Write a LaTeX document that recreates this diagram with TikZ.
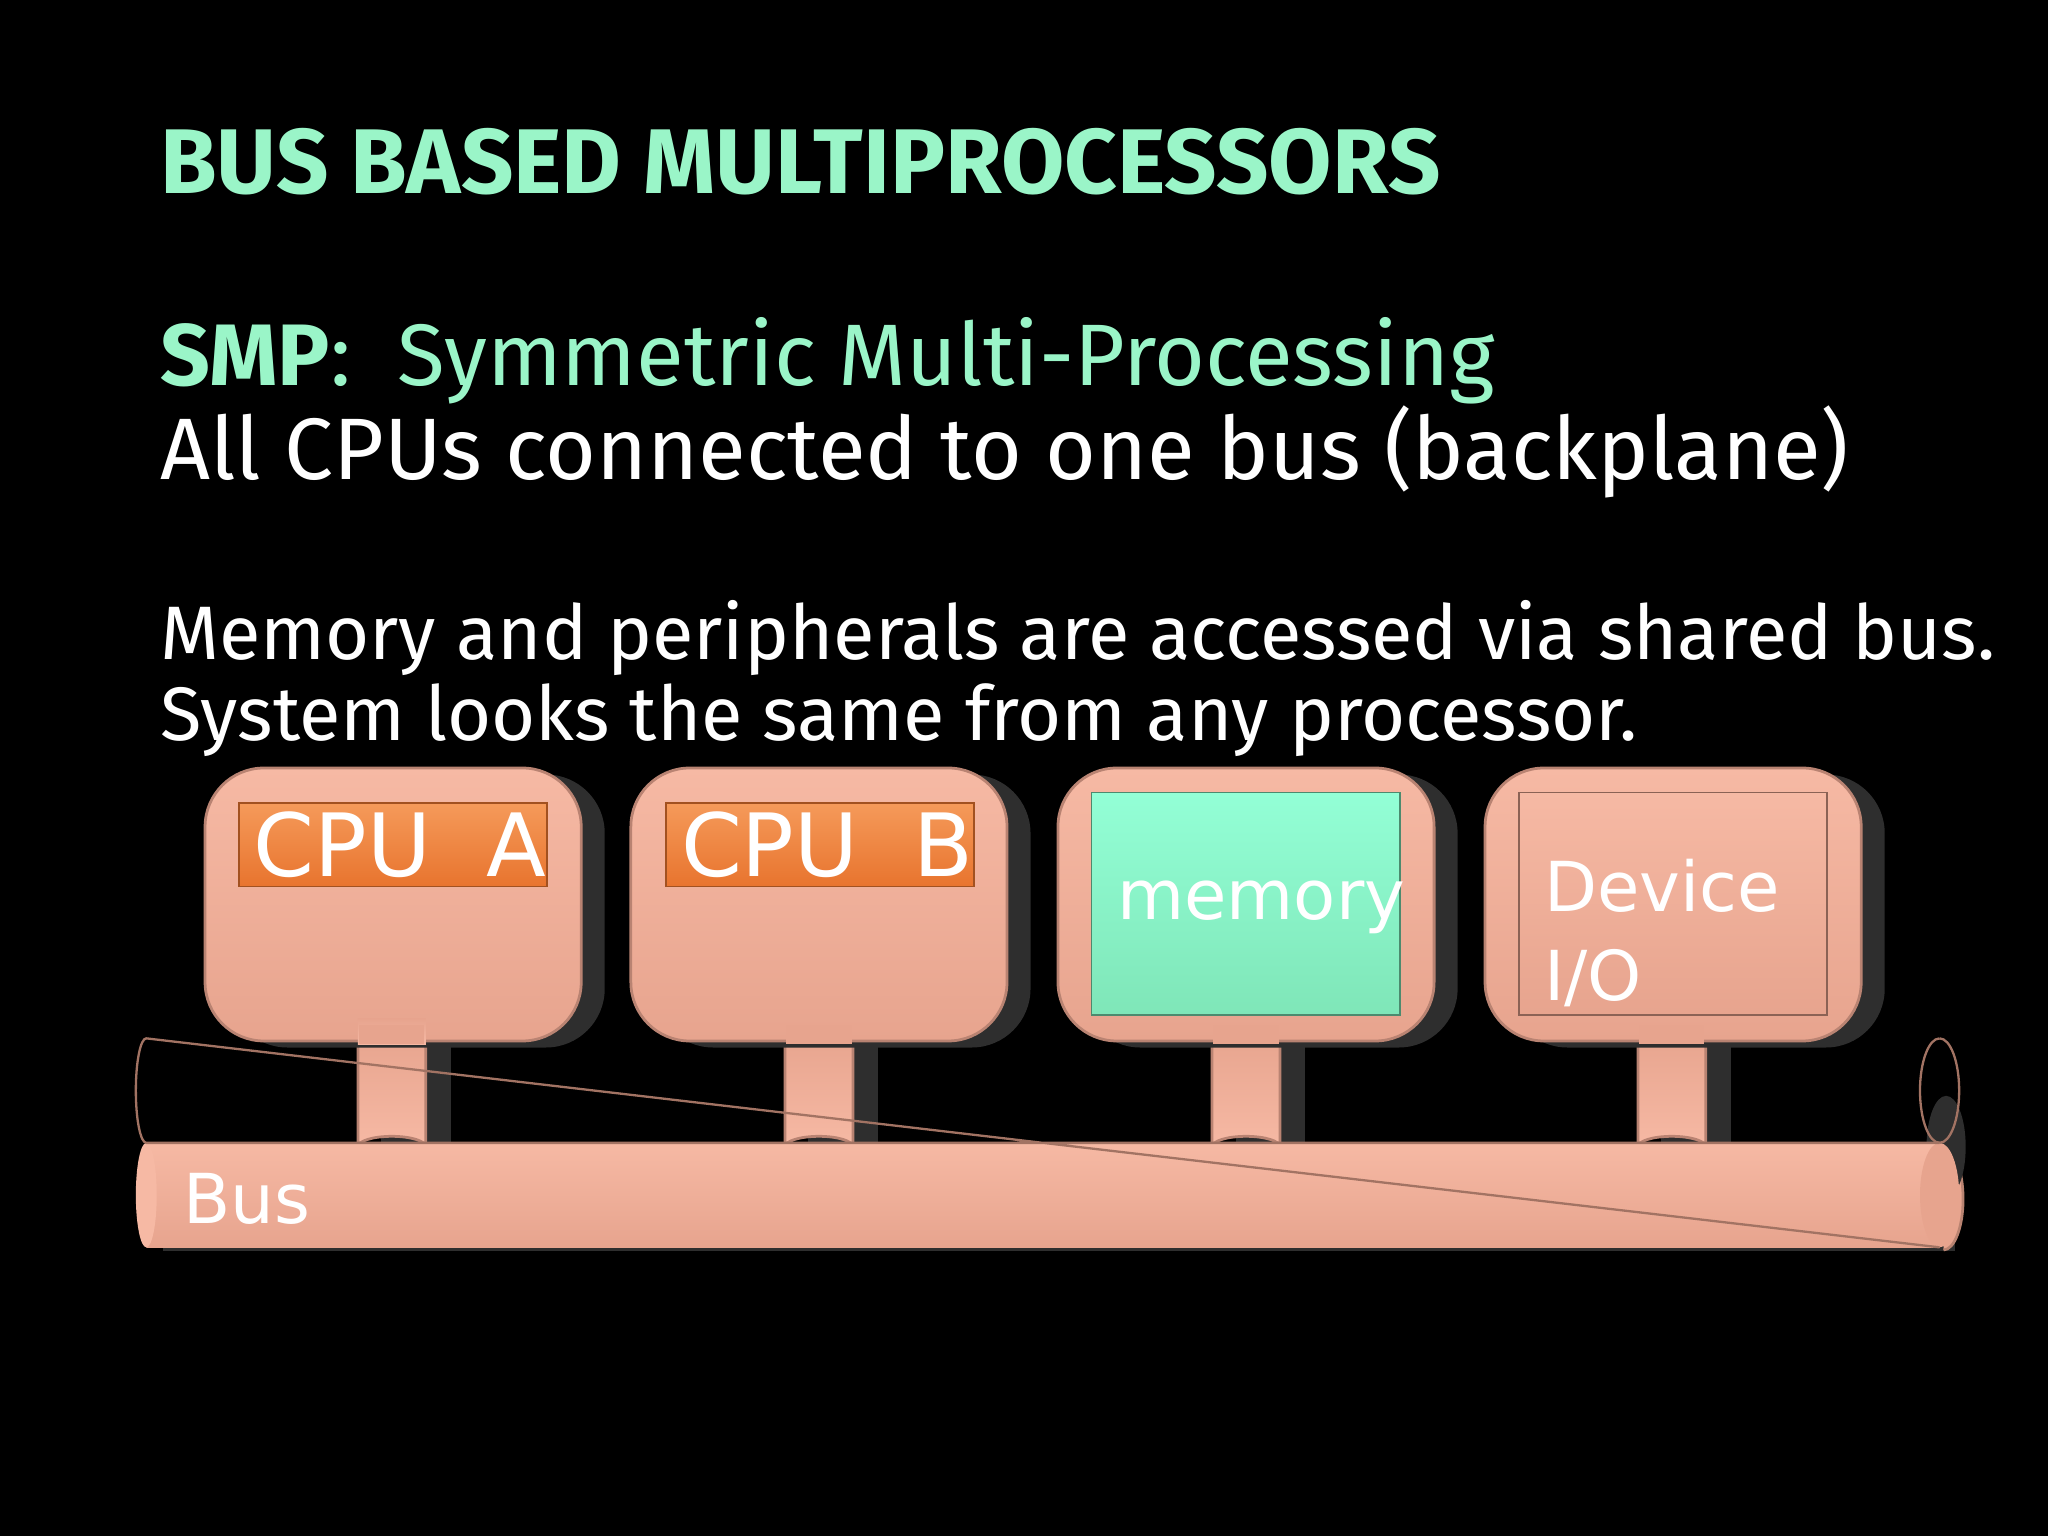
\documentclass[tikz,border=0pt]{standalone}
\usepackage{fontspec}
\setmainfont{Fira Sans}
\newfontfamily\boxfont{DejaVu Sans}
\definecolor{mint}{HTML}{9AF5C8}
\definecolor{salT}{HTML}{F6B9A4}
\definecolor{salB}{HTML}{E7A48E}
\definecolor{orT}{HTML}{F59A5A}
\definecolor{orB}{HTML}{E8742E}
\definecolor{grT}{HTML}{93FFD6}
\definecolor{grB}{HTML}{7FE6B8}
\definecolor{shad}{HTML}{2E2E2E}
\begin{document}
\begin{tikzpicture}[x=0.01cm,y=-0.01cm,
  outer/.style={rounded corners=0.45cm,top color=salT,bottom color=salB,draw=salB!80!black,line width=0.6pt},
  shadowbox/.style={rounded corners=0.45cm,fill=shad},
  stem/.style={top color=salB,bottom color=salT,draw=salB!80!black,line width=0.6pt},
  lbl/.style={text=white,font=\boxfont\fontsize{15}{18}\selectfont,anchor=west},
  txt/.style={anchor=base west,inner sep=0pt}]
\fill[black] (0,0) rectangle (1568,1176);
\node[txt,text=mint,font=\fontsize{20}{24}\selectfont\bfseries] (title) at (122,148) {BUS BASED MULTIPROCESSORS};
\node[txt,text=mint,font=\fontsize{19}{23}\selectfont] (smp) at (122,295) {\textbf{SMP}:\ \ Symmetric Multi-Processing};
\node[txt,text=white,font=\fontsize{19}{23}\selectfont] (all) at (122,367) {All CPUs connected to one bus (backplane)};
\node[txt,text=white,font=\fontsize{16.5}{20}\selectfont] (mem1) at (122,505) {Memory and peripherals are accessed via shared bus.};
\node[txt,text=white,font=\fontsize{16.5}{20}\selectfont] (mem2) at (122,567) {System looks the same from any processor.};
% bus
\fill[shad] (125,880) rectangle (1497,958);
\draw[line width=0.6pt,salB!80!black,fill=salB] (1488,879) arc[x radius=15,y radius=39,start angle=-90,end angle=90] ;
\fill[shad] (1490,878) ellipse[x radius=15,y radius=39] ;
\foreach \cx in {300,627,954,1280}{
  \fill[shad] (\cx-8,800) rectangle (\cx+45,890);
  \fill[shad,rounded corners=0.1cm] (\cx-8,870) rectangle (\cx+45,893);
  \draw[stem] (\cx-26,790) -- (\cx-26,878) arc[x radius=26,y radius=8,start angle=180,end angle=360] -- (\cx+26,790);
}
\shade[top color=salT,bottom color=salB] (112,875) rectangle (1485,955);
\fill[salT] (112,915) ellipse[x radius=8,y radius=40];
\fill[salB] (1485,915) ellipse[x radius=15,y radius=40];
\draw[salB!70!black,line width=0.5pt] (1485,875) arc[x radius=15,y radius=40,start angle=90,end angle=-90];
\draw[salB!70!black,line width=0.5pt] (1485,875) arc[x radius=15,y radius=40,start angle=90,end angle=270];
\draw[salB!70!black,line width=0.5pt] (1485,875) -- (112,875) arc[x radius=8,y radius=40,start angle=90,end angle=270] -- (1485,955);
\node[lbl,font=\boxfont\fontsize{15}{18}\selectfont] (bus) at (128,918) {Bus};
% boxes
\foreach \x/\n in {157/a,483/b,810/c,1137/d}{
  \fill[shadowbox] (\x+18,593) rectangle (\x+306,802);
  \draw[outer] (\x,588) rectangle (\x+288,797);
}
\draw[stem,draw=none] (274,780) rectangle (326,800);
\foreach \cx in {300,627,954,1280}{\fill[salB] (\cx-25,785) rectangle (\cx+25,799);}
\node[draw=orB!70!black,top color=orT,bottom color=orB,minimum width=236\pgflinewidth*0+2.36cm,minimum height=0.64cm,anchor=north west,inner sep=0pt] (cpua) at (182,614) {};
\node[lbl] at (cpua.west) {\fontsize{19}{22}\selectfont CPU\ \ A};
\node[draw=orB!70!black,top color=orT,bottom color=orB,minimum width=2.36cm,minimum height=0.64cm,anchor=north west,inner sep=0pt] (cpub) at (509,614) {};
\node[lbl] at (cpub.west) {\fontsize{19}{22}\selectfont CPU\ \ B};
\node[draw=grB!60!black,top color=grT,bottom color=grB,minimum width=2.36cm,minimum height=1.7cm,anchor=north west,inner sep=0pt] (memory) at (835,606) {};
\node[lbl,anchor=west] at (843,695) {memory};
\node[draw=salB!60!black,top color=salT,bottom color=salB,minimum width=2.36cm,minimum height=1.7cm,anchor=north west,inner sep=0pt] (dev) at (1162,606) {};
\node[lbl,anchor=north west,align=left,font=\boxfont\fontsize{15}{19.5}\selectfont] at (1170,645) {Device\\I/O};
\end{tikzpicture}
\end{document}
